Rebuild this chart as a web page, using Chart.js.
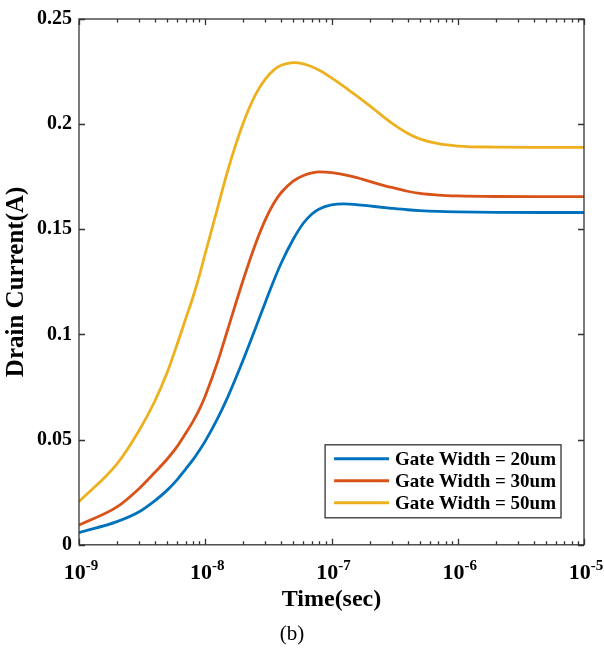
<!DOCTYPE html>
<html>
<head>
<meta charset="utf-8">
<script src="https://cdn.jsdelivr.net/npm/chart.js@4/dist/chart.umd.min.js"></script>
<style>
  html, body { margin: 0; padding: 0; background: #ffffff; }
  #wrap { width: 604px; height: 650px; }
</style>
</head>
<body>
<div id="wrap"><canvas id="c" width="604" height="650"></canvas></div>
<script>
// ---- data ----
const times = [1e-9, 2e-9, 3e-9, 4e-9, 5e-9, 6e-9, 7e-9, 8e-9, 9e-9, 1e-8,
  1.25e-8, 1.5e-8, 2e-8, 2.5e-8, 3e-8, 3.5e-8, 4e-8, 5e-8, 6e-8, 7e-8, 8e-8,
  1e-7, 1.25e-7, 1.5e-7, 2e-7, 3e-7, 4e-7, 5e-7, 7e-7, 1e-6, 2e-6, 5e-6, 1e-5];
const width20 = [0.0058,0.011,0.0157,0.021,0.026,0.031,0.036,0.0405,0.045,0.0493,
  0.06,0.07,0.088,0.103,0.1155,0.1258,0.134,0.1455,0.153,0.1573,0.1597,
  0.1616,0.1621,0.1619,0.1611,0.16,0.1593,0.1589,0.1585,0.1583,0.1581,0.158,0.158];
const width30 = [0.0094,0.018,0.0268,0.0345,0.0408,0.0468,0.053,0.0587,0.0645,0.0708,
  0.0868,0.102,0.126,0.143,0.1547,0.1625,0.1675,0.173,0.1756,0.1768,0.1773,
  0.177,0.176,0.1749,0.1728,0.1699,0.1681,0.1671,0.1663,0.1659,0.1656,0.1655,0.1655];
const width50 = [0.0205,0.0385,0.0545,0.0685,0.082,0.0955,0.1075,0.1178,0.1282,0.1385,
  0.16,0.1775,0.2005,0.214,0.2215,0.2258,0.228,0.2293,0.2287,0.2273,0.2256,
  0.222,0.218,0.2145,0.2088,0.2005,0.1957,0.193,0.1907,0.1896,0.1891,0.189,0.189];
const seriesLabels = ['Gate Width = 20um', 'Gate Width = 30um', 'Gate Width = 50um'];
const seriesColors = ['#0072BD', '#D95319', '#EDB120'];
const yTicks = [0, 0.05, 0.1, 0.15, 0.2, 0.25];
const yTickLabels = ['0', '0.05', '0.1', '0.15', '0.2', '0.25'];
const xTickExponents = [-9, -8, -7, -6, -5];
const xTitle = 'Time(sec)';
const yTitle = 'Drain Current(A)';
const caption = '(b)';

const FONT = "'Liberation Serif', 'Times New Roman', serif";
const toPts = (vals) => times.map((t, i) => ({ x: t, y: vals[i] }));

// MATLAB-like box with inward ticks, exponent tick labels and inside legend
const matlabAxes = {
  id: 'matlabAxes',
  afterDatasetsDraw(chart) {
    const { ctx, chartArea: ca, scales } = chart;
    const xs = scales.x, ys = scales.y;
    ctx.save();
    ctx.strokeStyle = '#333333';
    ctx.lineWidth = 1.3;
    ctx.strokeRect(ca.left, ca.top, ca.right - ca.left, ca.bottom - ca.top);
    ctx.beginPath();
    for (const e of xTickExponents) {
      const dec = Math.pow(10, e);
      const px = Math.round(xs.getPixelForValue(dec)) + 0.5;
      ctx.moveTo(px, ca.bottom); ctx.lineTo(px, ca.bottom - 6);
      ctx.moveTo(px, ca.top); ctx.lineTo(px, ca.top + 6);
      if (e < xTickExponents[xTickExponents.length - 1]) {
        for (let k = 2; k <= 9; k++) {
          const mx = Math.round(xs.getPixelForValue(k * dec)) + 0.5;
          ctx.moveTo(mx, ca.bottom); ctx.lineTo(mx, ca.bottom - 3.5);
          ctx.moveTo(mx, ca.top); ctx.lineTo(mx, ca.top + 3.5);
        }
      }
    }
    for (const v of yTicks) {
      const py = Math.round(ys.getPixelForValue(v)) + 0.5;
      ctx.moveTo(ca.left, py); ctx.lineTo(ca.left + 6, py);
      ctx.moveTo(ca.right, py); ctx.lineTo(ca.right - 6, py);
    }
    ctx.stroke();

    // x tick labels 10^e
    ctx.fillStyle = '#000';
    ctx.textBaseline = 'alphabetic';
    for (const e of xTickExponents) {
      const px = xs.getPixelForValue(Math.pow(10, e));
      const base = '10', sup = String(e);
      ctx.font = 'bold 22px ' + FONT;
      const wb = ctx.measureText(base).width;
      ctx.font = 'bold 15px ' + FONT;
      const ws = ctx.measureText(sup).width;
      const x0 = px - (wb + ws) / 2 + 2;
      ctx.font = 'bold 22px ' + FONT;
      ctx.textAlign = 'left';
      ctx.fillText(base, x0, ca.bottom + 34);
      ctx.font = 'bold 15px ' + FONT;
      ctx.fillText(sup, x0 + wb, ca.bottom + 25);
    }

    // legend
    ctx.font = 'bold 19px ' + FONT;
    let tw = 0;
    chart.data.datasets.forEach(d => { tw = Math.max(tw, ctx.measureText(d.label).width); });
    const boxRight = ca.right - 23, boxBottom = ca.bottom - 27;
    const rowH = 22;
    const boxH = 3 + rowH * chart.data.datasets.length + 4;
    const boxW = 70 + tw + 5;
    const boxLeft = boxRight - boxW, boxTop = boxBottom - boxH;
    ctx.fillStyle = '#ffffff';
    ctx.fillRect(boxLeft, boxTop, boxW, boxH);
    ctx.strokeStyle = '#333333';
    ctx.lineWidth = 1.3;
    ctx.strokeRect(boxLeft, boxTop, boxW, boxH);
    chart.data.datasets.forEach((d, i) => {
      const cy = boxTop + 3 + rowH * i + rowH / 2;
      ctx.strokeStyle = d.borderColor;
      ctx.lineWidth = 3;
      ctx.beginPath();
      ctx.moveTo(boxLeft + 9, cy); ctx.lineTo(boxLeft + 64, cy);
      ctx.stroke();
      ctx.fillStyle = '#000';
      ctx.textAlign = 'left';
      ctx.textBaseline = 'middle';
      ctx.fillText(d.label, boxLeft + 70, cy + 1);
    });
    ctx.restore();
  }
};

new Chart(document.getElementById('c'), {
  type: 'line',
  data: {
    datasets: [
      { label: seriesLabels[0], data: toPts(width20), borderColor: seriesColors[0] },
      { label: seriesLabels[1], data: toPts(width30), borderColor: seriesColors[1] },
      { label: seriesLabels[2], data: toPts(width50), borderColor: seriesColors[2] }
    ]
  },
  options: {
    responsive: false,
    animation: false,
    devicePixelRatio: 1,
    layout: { padding: { top: 15, right: 20, left: 0, bottom: 0 } },
    elements: {
      point: { radius: 0, hoverRadius: 0 },
      line: { borderWidth: 2.8, cubicInterpolationMode: 'monotone', fill: false }
    },
    scales: {
      x: {
        type: 'logarithmic',
        min: 1e-9, max: 1e-5,
        grid: { display: false, drawTicks: false },
        border: { display: false },
        ticks: { display: false },
        title: { display: true, text: xTitle, color: '#000',
          font: { family: FONT, size: 24, weight: 'bold' }, padding: { top: 0, bottom: 8 } },
        afterFit(s) { s.height = 77; }
      },
      y: {
        min: 0, max: 0.25,
        grid: { display: false, drawTicks: false },
        border: { display: false },
        afterBuildTicks(s) { s.ticks = yTicks.map(v => ({ value: v })); },
        ticks: {
          color: '#000', padding: 7,
          font: { family: FONT, size: 20, weight: 'bold' },
          callback: (v, i) => yTickLabels[i]
        },
        title: { display: true, text: yTitle, color: '#000',
          font: { family: FONT, size: 25, weight: 'bold' }, padding: { top: 2, bottom: 0 } },
        afterFit(s) { s.width = 79; }
      }
    },
    plugins: {
      legend: { display: false },
      tooltip: { enabled: false },
      subtitle: {
        display: true, position: 'bottom', text: caption, color: '#000',
        font: { family: FONT, size: 21, weight: 'normal' },
        padding: { top: 0, bottom: 3 }
      }
    }
  },
  plugins: [matlabAxes]
});
</script>
</body>
</html>
